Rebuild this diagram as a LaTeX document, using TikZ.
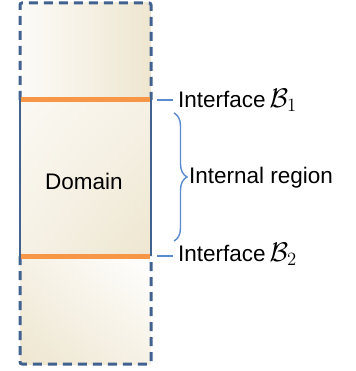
\documentclass[tikz,border=0pt]{standalone}
\usepackage{fontspec}
\setmainfont{Liberation Sans}
\usetikzlibrary{decorations.pathreplacing,positioning,shadings}
\definecolor{edgeblue}{HTML}{41618F}
\definecolor{leadblue}{HTML}{5B8BCF}
\definecolor{ifaceorange}{HTML}{F79646}
\definecolor{sand}{HTML}{EEE6D0}
\newcommand{\bnd}[1]{\scalebox{1.3}{$\mathcal{B}_{#1}$}}
\tikzset{
	dashedge/.style = {edgeblue, line width=3pt, dash pattern=on 9pt off 6pt, rounded corners=2pt},
	solidedge/.style = {edgeblue, line width=2.6pt},
	interface/.style = {ifaceorange, line width=5pt},
	leader/.style = {leadblue, line width=1.4pt},
	txt/.style = {font=\fontsize{22.5}{27}\selectfont, inner sep=2pt}
}

\begin{document}
\begin{tikzpicture}[x=1pt, y=-1pt]
	\useasboundingbox (0,0) rectangle (355,371);
	% sand coloured fill of the domain
	\shade[left color=white!85!sand, right color=sand] (20,3) rectangle (151,100);
	\shade[upper left=white!75!sand, upper right=white!45!sand, lower left=white!45!sand, lower right=sand] (20,100) rectangle (151,256);
	\shade[upper left=white!45!sand, upper right=white, lower left=sand, lower right=white!45!sand] (20,256) rectangle (151,364);
	
	% outline
	\draw [dashedge] (20,100) -- (20,3) -- (151,3) -- (151,100);
	\draw [solidedge] (20,100) -- (20,256);
	\draw [solidedge] (151,100) -- (151,256);
	\draw [dashedge] (20,256) -- (20,364) -- (151,364) -- (151,256);
	
	% the two interfaces
	\draw [interface] (21,100) -- (150,100);
	\draw [interface] (21,256) -- (150,256);
	
	\node [txt] (dom) at (84,181) {Domain};
	
	\node [txt, anchor=west] (ifa) at (176,100) {Interface\,\bnd{1}};
	\node [txt, anchor=west] (ifb) at (176,254) {Interface\,\bnd{2}};
	\node [txt, anchor=west] (inner) at (187,178) {Internal region};
	
	\coordinate (ifa-l) at (157,100);
	\coordinate (ifb-l) at (157,256);
	\draw [leader] (ifa-l) -- ([xshift=-3pt]ifa.west |- ifa-l);
	\draw [leader] (ifb-l) -- ([xshift=-3pt]ifb.west |- ifb-l);
	
	\coordinate (br-top) at (174,113);
	\coordinate (br-bot) at (174,241);
	\draw [leader, decorate, decoration={brace, amplitude=13pt, aspect=0.5}] (br-top) -- (br-bot);
\end{tikzpicture}
\end{document}
